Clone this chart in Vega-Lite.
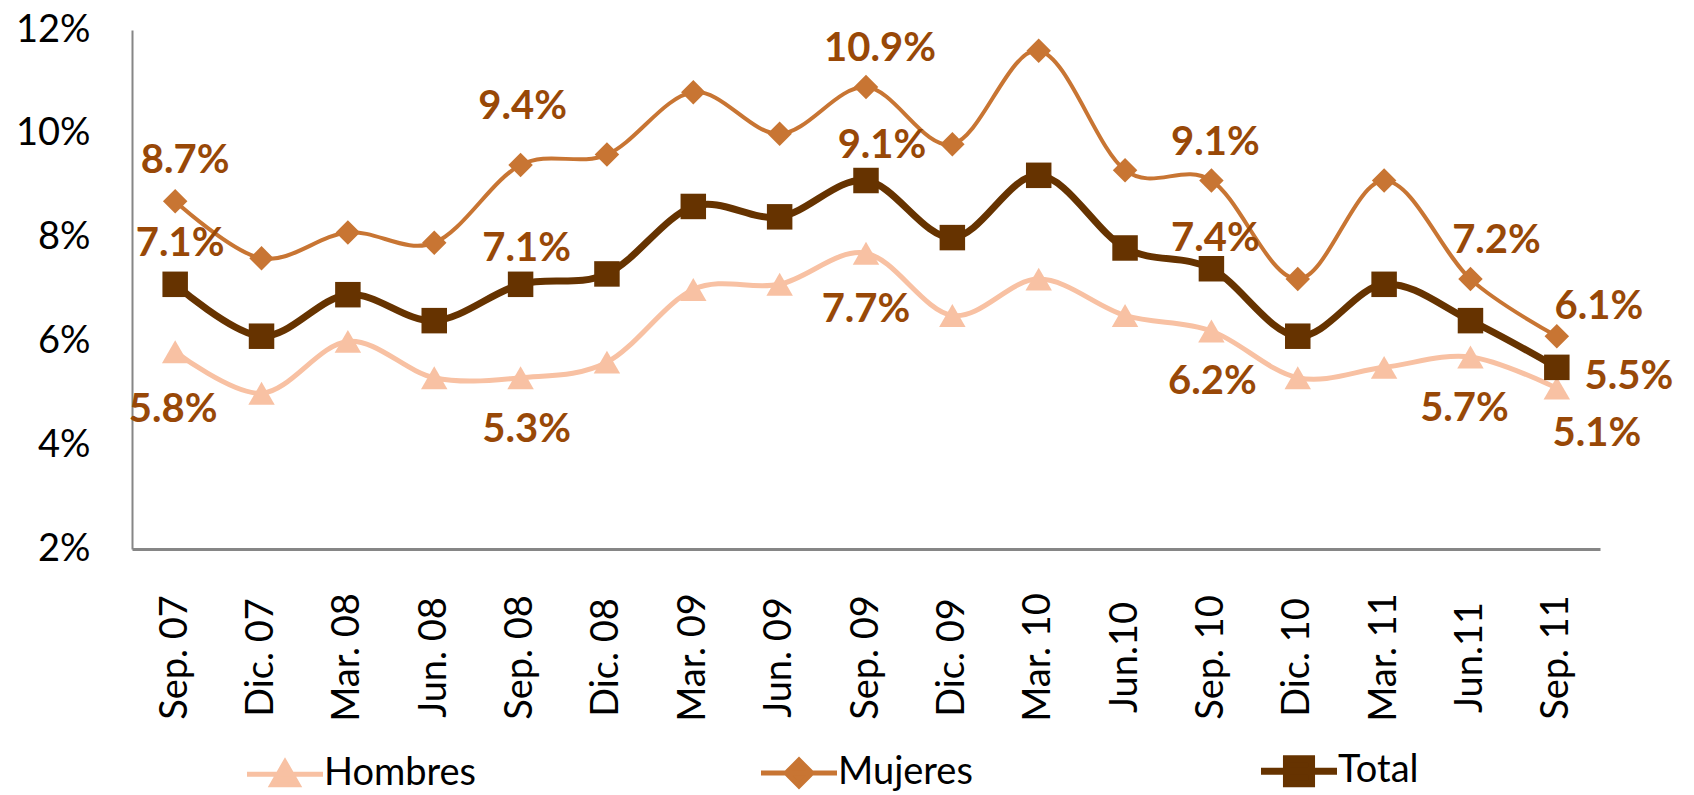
{
  "$schema": "https://vega.github.io/schema/vega-lite/v6.json",
  "width": 1468,
  "height": 519,
  "autosize": {"type": "none"},
  "padding": {"left": 132, "top": 30, "right": 94, "bottom": 246},
  "background": "white",
  "config": {"view": {"stroke": null}, "font": "Lato",
    "legend": {"orient": "none", "legendX": 134, "legendY": 722, "title": null, "direction": "horizontal", "labelFontSize": 38, "labelFont": "Lato", "labelColor": "black", "labelLimit": 400, "symbolType": "stroke", "symbolStrokeWidth": 6, "symbolSize": 5776, "labelOffset": 20, "columnPadding": 274}},
  "data": {"values": [
    {"periodo": "Sep. 07", "serie": "Hombres", "valor": 5.8},
    {"periodo": "Dic. 07", "serie": "Hombres", "valor": 5.0},
    {"periodo": "Mar. 08", "serie": "Hombres", "valor": 6.0},
    {"periodo": "Jun. 08", "serie": "Hombres", "valor": 5.3},
    {"periodo": "Sep. 08", "serie": "Hombres", "valor": 5.3},
    {"periodo": "Dic. 08", "serie": "Hombres", "valor": 5.6},
    {"periodo": "Mar. 09", "serie": "Hombres", "valor": 7.0},
    {"periodo": "Jun. 09", "serie": "Hombres", "valor": 7.1},
    {"periodo": "Sep. 09", "serie": "Hombres", "valor": 7.7},
    {"periodo": "Dic. 09", "serie": "Hombres", "valor": 6.5},
    {"periodo": "Mar. 10", "serie": "Hombres", "valor": 7.2},
    {"periodo": "Jun.10", "serie": "Hombres", "valor": 6.5},
    {"periodo": "Sep. 10", "serie": "Hombres", "valor": 6.2},
    {"periodo": "Dic. 10", "serie": "Hombres", "valor": 5.3},
    {"periodo": "Mar. 11", "serie": "Hombres", "valor": 5.5},
    {"periodo": "Jun.11", "serie": "Hombres", "valor": 5.7},
    {"periodo": "Sep. 11", "serie": "Hombres", "valor": 5.1},
    {"periodo": "Sep. 07", "serie": "Mujeres", "valor": 8.7},
    {"periodo": "Dic. 07", "serie": "Mujeres", "valor": 7.6},
    {"periodo": "Mar. 08", "serie": "Mujeres", "valor": 8.1},
    {"periodo": "Jun. 08", "serie": "Mujeres", "valor": 7.9},
    {"periodo": "Sep. 08", "serie": "Mujeres", "valor": 9.4},
    {"periodo": "Dic. 08", "serie": "Mujeres", "valor": 9.6},
    {"periodo": "Mar. 09", "serie": "Mujeres", "valor": 10.8},
    {"periodo": "Jun. 09", "serie": "Mujeres", "valor": 10.0},
    {"periodo": "Sep. 09", "serie": "Mujeres", "valor": 10.9},
    {"periodo": "Dic. 09", "serie": "Mujeres", "valor": 9.8},
    {"periodo": "Mar. 10", "serie": "Mujeres", "valor": 11.6},
    {"periodo": "Jun.10", "serie": "Mujeres", "valor": 9.3},
    {"periodo": "Sep. 10", "serie": "Mujeres", "valor": 9.1},
    {"periodo": "Dic. 10", "serie": "Mujeres", "valor": 7.2},
    {"periodo": "Mar. 11", "serie": "Mujeres", "valor": 9.1},
    {"periodo": "Jun.11", "serie": "Mujeres", "valor": 7.2},
    {"periodo": "Sep. 11", "serie": "Mujeres", "valor": 6.1},
    {"periodo": "Sep. 07", "serie": "Total", "valor": 7.1},
    {"periodo": "Dic. 07", "serie": "Total", "valor": 6.1},
    {"periodo": "Mar. 08", "serie": "Total", "valor": 6.9},
    {"periodo": "Jun. 08", "serie": "Total", "valor": 6.4},
    {"periodo": "Sep. 08", "serie": "Total", "valor": 7.1},
    {"periodo": "Dic. 08", "serie": "Total", "valor": 7.3},
    {"periodo": "Mar. 09", "serie": "Total", "valor": 8.6},
    {"periodo": "Jun. 09", "serie": "Total", "valor": 8.4},
    {"periodo": "Sep. 09", "serie": "Total", "valor": 9.1},
    {"periodo": "Dic. 09", "serie": "Total", "valor": 8.0},
    {"periodo": "Mar. 10", "serie": "Total", "valor": 9.2},
    {"periodo": "Jun.10", "serie": "Total", "valor": 7.8},
    {"periodo": "Sep. 10", "serie": "Total", "valor": 7.4},
    {"periodo": "Dic. 10", "serie": "Total", "valor": 6.1},
    {"periodo": "Mar. 11", "serie": "Total", "valor": 7.1},
    {"periodo": "Jun.11", "serie": "Total", "valor": 6.4},
    {"periodo": "Sep. 11", "serie": "Total", "valor": 5.5}
  ]},
  "encoding": {
    "x": {
      "field": "periodo", "type": "nominal",
      "scale": {"type": "point", "padding": 0.5, "domain": ["Sep. 07","Dic. 07","Mar. 08","Jun. 08","Sep. 08","Dic. 08","Mar. 09","Jun. 09","Sep. 09","Dic. 09","Mar. 10","Jun.10","Sep. 10","Dic. 10","Mar. 11","Jun.11","Sep. 11"]},
      "axis": {"title": null, "domain": true, "domainColor": "#868686", "domainWidth": 3, "ticks": false, "grid": false, "labelAngle": -90, "labelAlign": "center", "labelBaseline": "middle", "labelPadding": 108, "labelFontSize": 38, "labelFont": "Lato", "labelColor": "black"}
    },
    "y": {
      "field": "valor", "type": "quantitative",
      "scale": {"domain": [2, 12], "nice": false, "zero": false},
      "axis": {"title": null, "values": [2,4,6,8,10,12], "labelExpr": "datum.value + '%'", "domain": true, "domainColor": "#868686", "domainWidth": 2, "ticks": false, "grid": false, "labelPadding": 42, "labelFontSize": 38, "labelFont": "Lato", "labelColor": "black"}
    }
  },
  "layer": [
    {
      "transform": [{"filter": {"field": "serie", "equal": "Hombres"}}],
      "mark": {"type": "line", "interpolate": "cardinal", "strokeWidth": 5},
      "encoding": {"color": {"field": "serie", "type": "nominal", "scale": {"domain": ["Hombres","Mujeres","Total"], "range": ["#F8C1A3","#C87533","#663300"]},
        "legend": {"encoding": {"symbols": {
          "shape": {"value": {"expr": "datum.value === 'Hombres' ? 'M-1,0L1,0M0,-0.32L0.34,0.27L-0.34,0.27Z' : datum.value === 'Mujeres' ? 'M-1,0L1,0M-0.34,0L0,-0.34L0.34,0L0,0.34Z' : 'M-1,0L1,0M-0.33,-0.33L0.33,-0.33L0.33,0.33L-0.33,0.33Z'"}},
          "fill": {"value": {"expr": "datum.value === 'Hombres' ? '#F8C1A3' : datum.value === 'Mujeres' ? '#C87533' : '#663300'"}},
          "strokeWidth": {"value": {"expr": "datum.value === 'Total' ? 7 : 5"}}
        }}}}}
    },
    {
      "transform": [{"filter": {"field": "serie", "equal": "Mujeres"}}],
      "mark": {"type": "line", "interpolate": "cardinal", "strokeWidth": 4},
      "encoding": {"color": {"field": "serie", "type": "nominal"}}
    },
    {
      "transform": [{"filter": {"field": "serie", "equal": "Total"}}],
      "mark": {"type": "line", "interpolate": "cardinal", "strokeWidth": 7},
      "encoding": {"color": {"field": "serie", "type": "nominal"}}
    },
    {
      "transform": [{"filter": {"field": "serie", "equal": "Hombres"}}],
      "mark": {"type": "point", "filled": true, "opacity": 1, "shape": "triangle-up", "size": 700, "color": "#F8C1A3"}
    },
    {
      "transform": [{"filter": {"field": "serie", "equal": "Mujeres"}}],
      "mark": {"type": "point", "filled": true, "opacity": 1, "shape": "diamond", "size": 600, "color": "#C87533"}
    },
    {
      "transform": [{"filter": {"field": "serie", "equal": "Total"}}],
      "mark": {"type": "point", "filled": true, "opacity": 1, "shape": "square", "size": 650, "color": "#663300"}
    },
    {"transform": [{"filter": {"and": [{"field": "serie", "equal": "Mujeres"}, {"field": "periodo", "equal": "Sep. 07"}]}}],
     "mark": {"type": "text", "dx": 10, "dy": -40, "fontSize": 40, "fontWeight": "bold", "font": "Lato", "color": "#984807", "text": {"expr": "format(datum.valor, '.1f') + '%'"}}},
    {"transform": [{"filter": {"and": [{"field": "serie", "equal": "Mujeres"}, {"field": "periodo", "equal": "Sep. 08"}]}}],
     "mark": {"type": "text", "dx": 2, "dy": -58, "fontSize": 40, "fontWeight": "bold", "font": "Lato", "color": "#984807", "text": {"expr": "format(datum.valor, '.1f') + '%'"}}},
    {"transform": [{"filter": {"and": [{"field": "serie", "equal": "Mujeres"}, {"field": "periodo", "equal": "Sep. 09"}]}}],
     "mark": {"type": "text", "dx": 14, "dy": -38, "fontSize": 40, "fontWeight": "bold", "font": "Lato", "color": "#984807", "text": {"expr": "format(datum.valor, '.1f') + '%'"}}},
    {"transform": [{"filter": {"and": [{"field": "serie", "equal": "Mujeres"}, {"field": "periodo", "equal": "Sep. 10"}]}}],
     "mark": {"type": "text", "dx": 4, "dy": -38, "fontSize": 40, "fontWeight": "bold", "font": "Lato", "color": "#984807", "text": {"expr": "format(datum.valor, '.1f') + '%'"}}},
    {"transform": [{"filter": {"and": [{"field": "serie", "equal": "Mujeres"}, {"field": "periodo", "equal": "Jun.11"}]}}],
     "mark": {"type": "text", "dx": 26, "dy": -38, "fontSize": 40, "fontWeight": "bold", "font": "Lato", "color": "#984807", "text": {"expr": "format(datum.valor, '.1f') + '%'"}}},
    {"transform": [{"filter": {"and": [{"field": "serie", "equal": "Mujeres"}, {"field": "periodo", "equal": "Sep. 11"}]}}],
     "mark": {"type": "text", "dx": 42, "dy": -29, "fontSize": 40, "fontWeight": "bold", "font": "Lato", "color": "#984807", "text": {"expr": "format(datum.valor, '.1f') + '%'"}}},
    {"transform": [{"filter": {"and": [{"field": "serie", "equal": "Total"}, {"field": "periodo", "equal": "Sep. 07"}]}}],
     "mark": {"type": "text", "dx": 5, "dy": -40, "fontSize": 40, "fontWeight": "bold", "font": "Lato", "color": "#984807", "text": {"expr": "format(datum.valor, '.1f') + '%'"}}},
    {"transform": [{"filter": {"and": [{"field": "serie", "equal": "Total"}, {"field": "periodo", "equal": "Sep. 08"}]}}],
     "mark": {"type": "text", "dx": 6, "dy": -35, "fontSize": 40, "fontWeight": "bold", "font": "Lato", "color": "#984807", "text": {"expr": "format(datum.valor, '.1f') + '%'"}}},
    {"transform": [{"filter": {"and": [{"field": "serie", "equal": "Total"}, {"field": "periodo", "equal": "Sep. 09"}]}}],
     "mark": {"type": "text", "dx": 16, "dy": -35, "fontSize": 40, "fontWeight": "bold", "font": "Lato", "color": "#984807", "text": {"expr": "format(datum.valor, '.1f') + '%'"}}},
    {"transform": [{"filter": {"and": [{"field": "serie", "equal": "Total"}, {"field": "periodo", "equal": "Sep. 10"}]}}],
     "mark": {"type": "text", "dx": 4, "dy": -30, "fontSize": 40, "fontWeight": "bold", "font": "Lato", "color": "#984807", "text": {"expr": "format(datum.valor, '.1f') + '%'"}}},
    {"transform": [{"filter": {"and": [{"field": "serie", "equal": "Total"}, {"field": "periodo", "equal": "Sep. 11"}]}}],
     "mark": {"type": "text", "dx": 72, "dy": 10, "fontSize": 40, "fontWeight": "bold", "font": "Lato", "color": "#984807", "text": {"expr": "format(datum.valor, '.1f') + '%'"}}},
    {"transform": [{"filter": {"and": [{"field": "serie", "equal": "Hombres"}, {"field": "periodo", "equal": "Sep. 07"}]}}],
     "mark": {"type": "text", "dx": -2, "dy": 58, "fontSize": 40, "fontWeight": "bold", "font": "Lato", "color": "#984807", "text": {"expr": "format(datum.valor, '.1f') + '%'"}}},
    {"transform": [{"filter": {"and": [{"field": "serie", "equal": "Hombres"}, {"field": "periodo", "equal": "Sep. 08"}]}}],
     "mark": {"type": "text", "dx": 6, "dy": 52, "fontSize": 40, "fontWeight": "bold", "font": "Lato", "color": "#984807", "text": {"expr": "format(datum.valor, '.1f') + '%'"}}},
    {"transform": [{"filter": {"and": [{"field": "serie", "equal": "Hombres"}, {"field": "periodo", "equal": "Sep. 09"}]}}],
     "mark": {"type": "text", "dx": 0, "dy": 57, "fontSize": 40, "fontWeight": "bold", "font": "Lato", "color": "#984807", "text": {"expr": "format(datum.valor, '.1f') + '%'"}}},
    {"transform": [{"filter": {"and": [{"field": "serie", "equal": "Hombres"}, {"field": "periodo", "equal": "Sep. 10"}]}}],
     "mark": {"type": "text", "dx": 1, "dy": 51, "fontSize": 40, "fontWeight": "bold", "font": "Lato", "color": "#984807", "text": {"expr": "format(datum.valor, '.1f') + '%'"}}},
    {"transform": [{"filter": {"and": [{"field": "serie", "equal": "Hombres"}, {"field": "periodo", "equal": "Jun.11"}]}}],
     "mark": {"type": "text", "dx": -6, "dy": 52, "fontSize": 40, "fontWeight": "bold", "font": "Lato", "color": "#984807", "text": {"expr": "format(datum.valor, '.1f') + '%'"}}},
    {"transform": [{"filter": {"and": [{"field": "serie", "equal": "Hombres"}, {"field": "periodo", "equal": "Sep. 11"}]}}],
     "mark": {"type": "text", "dx": 40, "dy": 46, "fontSize": 40, "fontWeight": "bold", "font": "Lato", "color": "#984807", "text": {"expr": "format(datum.valor, '.1f') + '%'"}}}
  ]
}
